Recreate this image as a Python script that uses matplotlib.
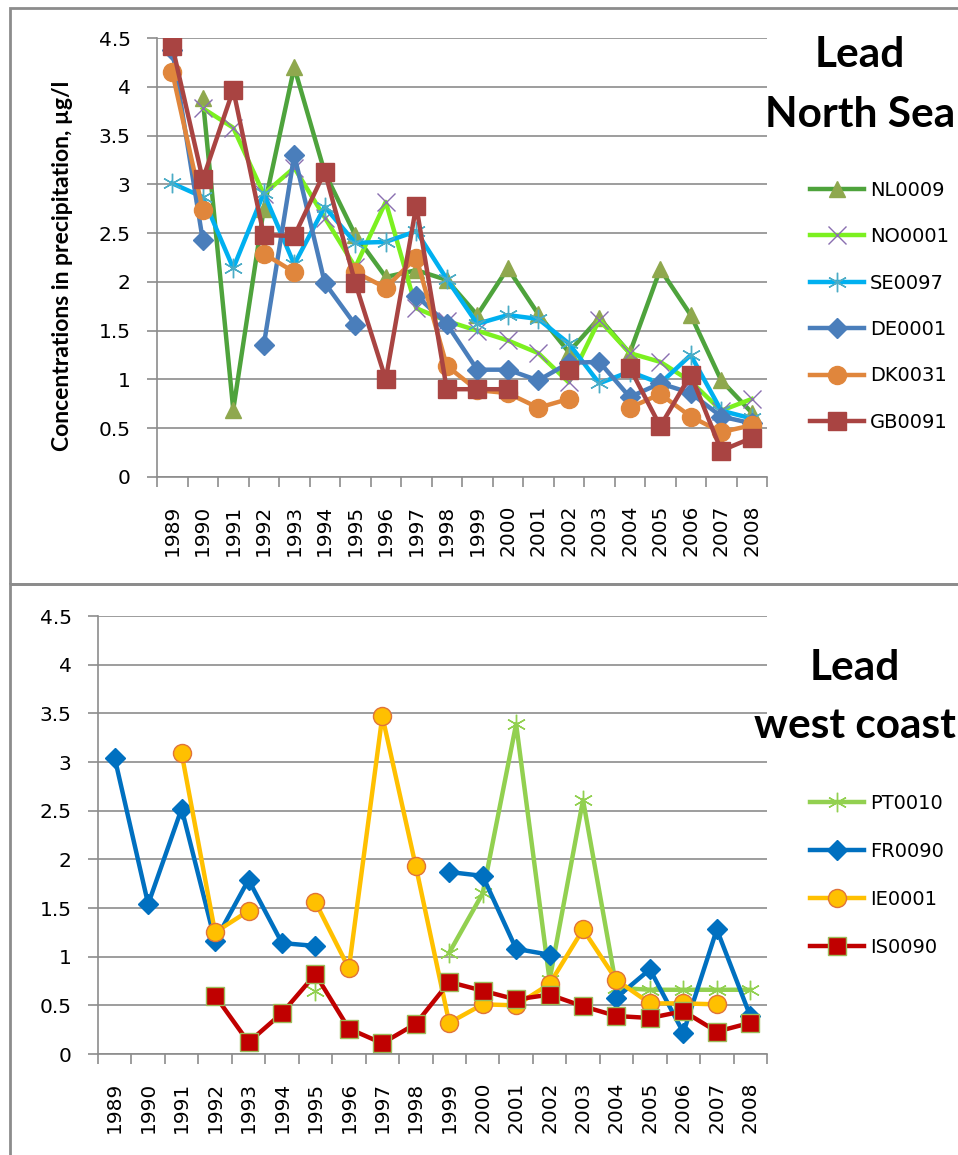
import numpy as np
import matplotlib
matplotlib.use("Agg")
import matplotlib.pyplot as plt
from matplotlib.patches import Rectangle

plt.rcParams['font.family'] = ['DejaVu Sans']

nan = np.nan
years = [str(y) for y in range(1989, 2009)]

# North Sea stations
NL0009 = [nan, 3.88, 0.69, 2.75, 4.2, 3.12, 2.48, 2.05, 2.12, 2.02, 1.66, 2.14, 1.67, 1.28, 1.63, 1.27, 2.13, 1.66, 0.99, 0.66]
NO0001 = [nan, 3.78, 3.58, 2.9, 3.17, 2.66, 2.15, 2.82, 1.73, 1.6, 1.5, 1.4, 1.27, 0.97, 1.61, 1.27, 1.18, 0.98, 0.68, 0.8]
SE0097 = [3.01, 2.87, 2.14, 2.91, 2.18, 2.77, 2.4, 2.41, 2.52, 2.03, 1.57, 1.66, 1.62, 1.37, 0.96, 1.08, 0.96, 1.25, 0.68, 0.6]
DE0001 = [4.38, 2.43, nan, 1.35, 3.3, 1.99, 1.56, nan, 1.86, 1.57, 1.1, 1.1, 0.99, 1.17, 1.18, 0.82, 0.96, 0.86, 0.62, 0.55]
DK0031 = [4.15, 2.74, nan, 2.29, 2.1, nan, 2.1, 1.94, 2.25, 1.14, 0.89, 0.86, 0.71, 0.8, nan, 0.71, 0.85, 0.62, 0.46, 0.53]
GB0091 = [4.42, 3.05, 3.97, 2.48, 2.47, 3.13, 1.99, 1.0, 2.78, 0.9, 0.9, 0.9, nan, 1.1, nan, 1.12, 0.52, 1.05, 0.27, 0.4]

# west coast stations
PT0010 = [nan, nan, nan, nan, nan, nan, 0.65, nan, nan, nan, 1.04, 1.65, 3.39, 0.76, 2.61, 0.68, 0.66, 0.66, 0.66, 0.66]
FR0090 = [3.04, 1.54, 2.52, 1.16, 1.79, 1.14, 1.11, nan, nan, nan, 1.87, 1.83, 1.08, 1.02, nan, 0.58, 0.87, 0.22, 1.28, 0.39]
IE0001 = [nan, nan, 3.09, 1.25, 1.47, nan, 1.56, 0.88, 3.47, 1.93, 0.32, 0.51, 0.5, 0.72, 1.28, 0.76, 0.52, 0.52, 0.51, nan]
IS0090 = [nan, nan, nan, 0.6, 0.12, 0.42, 0.82, 0.26, 0.11, 0.31, 0.74, 0.65, 0.56, 0.61, 0.49, 0.39, 0.37, 0.44, 0.23, 0.32]

W, H = 958, 1155
fig = plt.figure(figsize=(W / 100, H / 100), dpi=100)

# chart area frames
border = '#8c8c8c'
fig.patches.append(Rectangle((10 / W, 1 - 584 / H), 1.0, 576 / H, transform=fig.transFigure,
                             fill=False, edgecolor=border, linewidth=2))
fig.patches.append(Rectangle((10 / W, -0.05), 1.0, 1 - 584 / H + 0.05, transform=fig.transFigure,
                             fill=False, edgecolor=border, linewidth=2))

def setup(ax):
    x = np.arange(len(years))
    ax.set_xlim(-0.5, len(years) - 0.5)
    ax.set_ylim(0, 4.5)
    ax.set_yticks(np.arange(0, 4.51, 0.5))
    ax.set_yticklabels(['0', '0.5', '1', '1.5', '2', '2.5', '3', '3.5', '4', '4.5'])
    ax.set_xticks(x)
    ax.set_xticklabels(years, rotation=90)
    ax.set_xticks(np.arange(-0.5, len(years), 1), minor=True)
    ax.tick_params(axis='x', which='major', length=0, pad=20, labelsize=14.5)
    ax.tick_params(axis='x', which='minor', length=7, width=1.2, color=border, direction='out')
    ax.tick_params(axis='y', length=7, width=1.2, color=border, pad=12, labelsize=14.5)
    ax.grid(axis='y', color='#8c8c8c', linewidth=1.2)
    ax.set_axisbelow(True)
    for s in ['top', 'right']:
        ax.spines[s].set_visible(False)
    for s in ['left', 'bottom']:
        ax.spines[s].set_color(border)
        ax.spines[s].set_linewidth(1.2)
    return x

# top panel
ax1 = fig.add_axes([157 / W, 1 - 477 / H, 610 / W, 439 / H])
x = setup(ax1)
lw = 3.2
ax1.plot(x, NL0009, color='#4ea33c', lw=lw, marker='^', ms=12, mfc='#8fa84e', mec='#8fa84e', label='NL0009')
ax1.plot(x, NO0001, color='#7cf020', lw=lw, marker='x', ms=13, mew=1, mec='#8a6fb0', label='NO0001')
ax1.plot(x, SE0097, color='#00b0f0', lw=lw, marker=(6, 2, 0), ms=14, mew=1, mec='#4bacc6', label='SE0097')
ax1.plot(x, DE0001, color='#4a7ebb', lw=lw, marker='D', ms=10, label='DE0001')
ax1.plot(x, DK0031, color='#e0863c', lw=lw, marker='o', ms=13, label='DK0031')
ax1.plot(x, GB0091, color='#a94442', lw=lw, marker='s', ms=13, label='GB0091')
ax1.set_ylabel('Concentrations in precipitation, µg/l', fontsize=16.5, fontweight='bold', family='Lato')
ax1.yaxis.set_label_coords(-0.137, 0.48)
ax1.legend(loc='upper left', bbox_to_anchor=(800 / W, 1 - 171 / H), bbox_transform=fig.transFigure,
           frameon=False, fontsize=14, handlelength=2.8, handletextpad=0.3, labelspacing=1.41,
           borderpad=0, numpoints=1)
fig.text(860 / W, 1 - 55 / H, 'Lead', fontsize=30.5, fontweight='bold', family='Lato', ha='center', va='center')
fig.text(860 / W, 1 - 115 / H, 'North Sea', fontsize=30.5, fontweight='bold', family='Lato', ha='center', va='center')

# bottom panel
ax2 = fig.add_axes([98 / W, 1 - 1054 / H, 669 / W, 438 / H])
x = setup(ax2)
ax2.plot(x, PT0010, color='#92d050', lw=lw, marker=(6, 2, 0), ms=14, mew=1, mec='#92d050', label='PT0010')
ax2.plot(x, FR0090, color='#0070c0', lw=lw, marker='D', ms=10, label='FR0090')
ax2.plot(x, IE0001, color='#ffc000', lw=lw, marker='o', ms=13, mfc='#ffc000', mec='#e0733a', mew=1, label='IE0001')
ax2.plot(x, IS0090, color='#c00000', lw=lw, marker='s', ms=13, mfc='#c00000', mec='#9bbb59', mew=1, label='IS0090')
ax2.legend(loc='upper left', bbox_to_anchor=(800 / W, 1 - 784 / H), bbox_transform=fig.transFigure,
           frameon=False, fontsize=14, handlelength=2.8, handletextpad=0.3, labelspacing=1.49,
           borderpad=0, numpoints=1)
fig.text(855 / W, 1 - 668 / H, 'Lead', fontsize=30.5, fontweight='bold', family='Lato', ha='center', va='center')
fig.text(855 / W, 1 - 726 / H, 'west coast', fontsize=30.5, fontweight='bold', family='Lato', ha='center', va='center')

fig.savefig('out.png', dpi=100)
